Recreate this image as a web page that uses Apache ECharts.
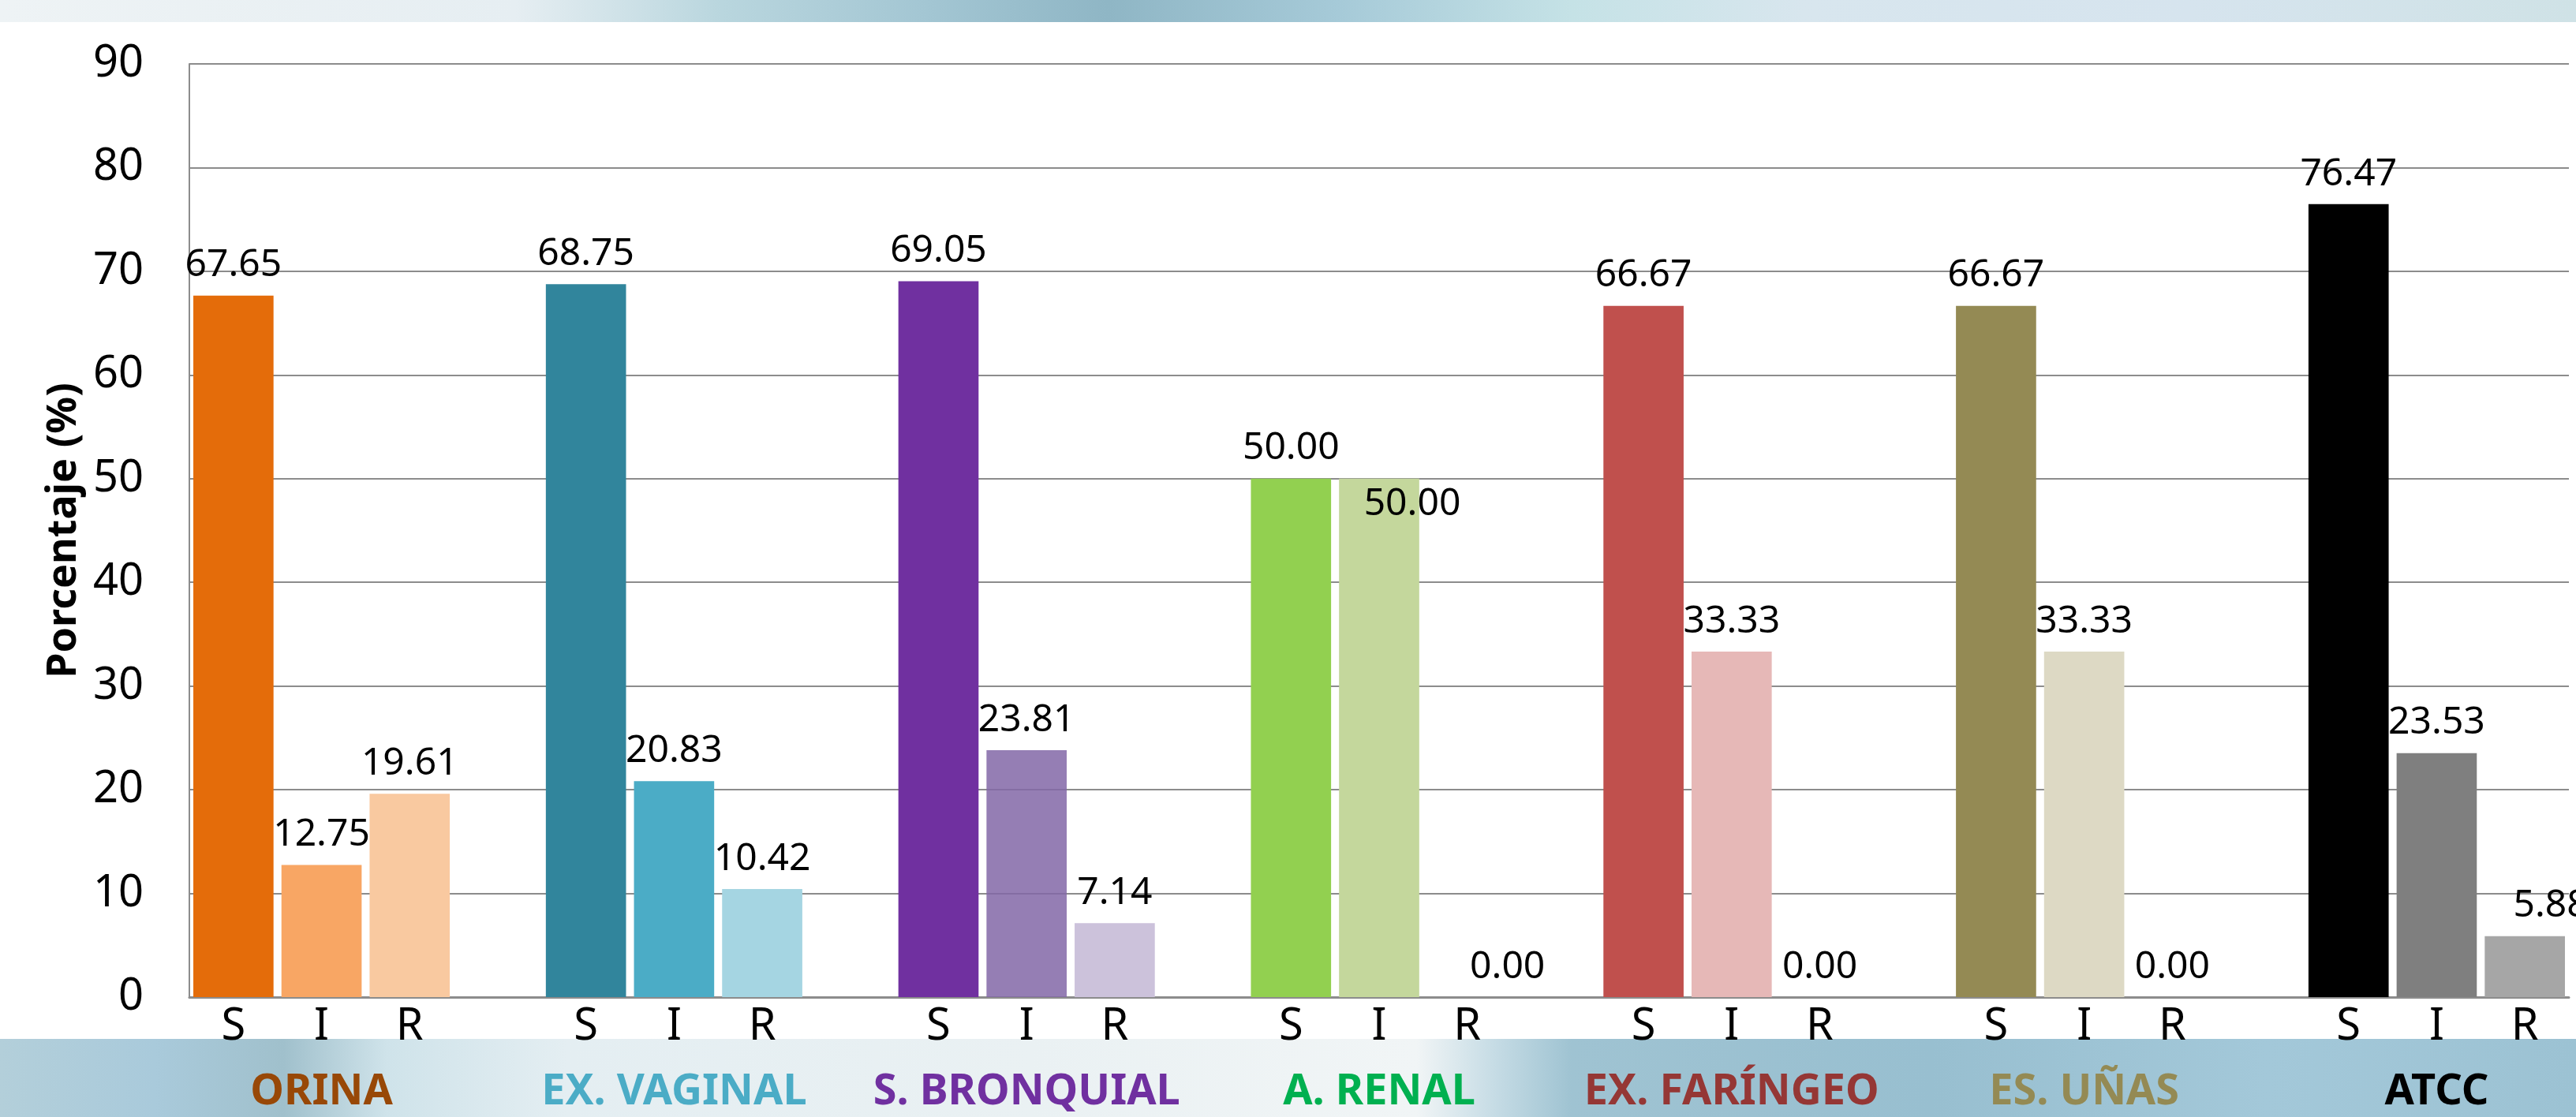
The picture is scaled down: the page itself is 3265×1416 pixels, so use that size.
<!DOCTYPE html>
<html>
<head>
<meta charset="utf-8">
<script src="https://cdn.jsdelivr.net/npm/echarts@6/dist/echarts.min.js"></script>
<style>
  html, body { margin: 0; padding: 0; background: #ffffff; }
  #chart { width: 3265px; height: 1416px; }
</style>
</head>
<body>
<div id="chart"></div>
<script>
// Susceptibility profile (S / I / R) per sample origin, in percent
const groups = ['ORINA', 'EX. VAGINAL', 'S. BRONQUIAL', 'A. RENAL', 'EX. FARÍNGEO', 'ES. UÑAS', 'ATCC'];
const levels = ['S', 'I', 'R'];
const valS = [67.65, 68.75, 69.05, 50.00, 66.67, 66.67, 76.47];
const valI = [12.75, 20.83, 23.81, 50.00, 33.33, 33.33, 23.53];
const valR = [19.61, 10.42, 7.14, 0.00, 0.00, 0.00, 5.88];
const yTicks = [0, 10, 20, 30, 40, 50, 60, 70, 80, 90];

// Colour per group: [S, I, R] bar fills, and the group title colour
const barColors = [
  ['#E46C0A', '#F8A664', '#F9C9A0'],
  ['#31859C', '#4BACC6', '#A5D5E2'],
  ['#7030A0', 'rgba(131,103,167,0.85)', '#CCC2DB'],
  ['#92D050', '#C4D79C', '#E0E0E0'],
  ['#C0504D', '#E6B8B7', '#F2DCDB'],
  ['#948A54', '#DDD9C4', '#EEECE1'],
  ['#000000', '#7F7F7F', '#A6A6A6']
];
const groupColors = ['#984807', '#4BACC6', '#7030A0', '#00B050', '#953735', '#948A54', '#000000'];

// A few value labels are nudged aside so they do not collide with neighbours
const labelNudge = { '3-1': [42, 71], '3-2': [51, 0], '6-2': [33, 0] };

const values = [valS, valI, valR];
const categories = [];
const groupAxis = [];
const barData = [];
groups.forEach((g, gi) => {
  levels.forEach((lv, li) => {
    categories.push(lv);
    groupAxis.push(li === 1 ? { value: g, textStyle: { color: groupColors[gi] } } : '');
    const item = {
      value: values[li][gi],
      itemStyle: { color: barColors[gi][li] }
    };
    const nudge = labelNudge[gi + '-' + li];
    if (nudge) item.label = { offset: nudge };
    barData.push(item);
  });
  if (gi < groups.length - 1) {
    categories.push('');
    groupAxis.push('');
    barData.push('-');
  }
});

const FONT = '"Noto Sans", "Open Sans", sans-serif';

const chart = echarts.init(document.getElementById('chart'), null, { renderer: 'canvas' });
chart.setOption({
  animation: false,
  backgroundColor: '#ffffff',
  graphic: [
    {
      type: 'rect', z: -10, silent: true,
      shape: { x: 0, y: 0, width: 3265, height: 28 },
      style: {
        fill: new echarts.graphic.LinearGradient(0, 0, 1, 0, [
          { offset: 0.00, color: '#eef3f5' },
          { offset: 0.20, color: '#e6eef2' },
          { offset: 0.28, color: '#b9d6de' },
          { offset: 0.36, color: '#a3c6d3' },
          { offset: 0.43, color: '#8fb6c5' },
          { offset: 0.52, color: '#a6cad8' },
          { offset: 0.61, color: '#c5e2e6' },
          { offset: 0.70, color: '#d8e6ee' },
          { offset: 0.85, color: '#d6e4ee' },
          { offset: 1.00, color: '#cfe2e6' }
        ])
      }
    },
    {
      type: 'rect', z: -10, silent: true,
      shape: { x: 0, y: 1317, width: 3265, height: 99 },
      style: {
        fill: new echarts.graphic.LinearGradient(0, 0, 1, 0, [
          { offset: 0.00, color: '#b3cfda' },
          { offset: 0.06, color: '#a9cadb' },
          { offset: 0.11, color: '#a0c0cc' },
          { offset: 0.15, color: '#cfe3ea' },
          { offset: 0.22, color: '#e4eef2' },
          { offset: 0.40, color: '#eaf1f3' },
          { offset: 0.55, color: '#f1f5f6' },
          { offset: 0.58, color: '#c6dce5' },
          { offset: 0.61, color: '#9fc3d2' },
          { offset: 0.75, color: '#98bfd0' },
          { offset: 0.88, color: '#a3c8d9' },
          { offset: 1.00, color: '#9cc2d3' }
        ])
      }
    }
  ],
  grid: { left: 240, right: 9, top: 81, bottom: 152, containLabel: false },
  xAxis: [
    {
      type: 'category',
      data: categories,
      position: 'bottom',
      axisLine: { show: true, lineStyle: { color: '#8c8c8c', width: 3 } },
      axisTick: { show: false },
      axisLabel: { interval: 0, color: '#000', fontFamily: FONT, fontSize: 56, margin: 10 },
      splitLine: { show: false }
    },
    {
      type: 'category',
      data: groupAxis,
      position: 'bottom',
      axisLine: { show: false },
      axisTick: { show: false },
      axisLabel: { interval: 0, fontFamily: FONT, fontSize: 54, fontWeight: 'bold', margin: 94 },
      splitLine: { show: false }
    }
  ],
  yAxis: {
    type: 'value',
    min: yTicks[0],
    max: yTicks[yTicks.length - 1],
    interval: yTicks[1] - yTicks[0],
    name: 'Porcentaje (%)',
    nameLocation: 'middle',
    nameRotate: 90,
    nameGap: 132,
    nameTextStyle: { color: '#000', fontFamily: FONT, fontSize: 52, fontWeight: 'bold' },
    axisLine: { show: true, lineStyle: { color: '#8c8c8c', width: 2 } },
    axisTick: { show: false },
    axisLabel: { color: '#000', fontFamily: FONT, fontSize: 56, margin: 58 },
    splitLine: { show: true, lineStyle: { color: '#8c8c8c', width: 2 } }
  },
  series: [
    {
      type: 'bar',
      xAxisIndex: 0,
      data: barData,
      barCategoryGap: '9%',
      label: {
        show: true,
        position: 'top',
        distance: 14,
        color: '#000',
        fontFamily: FONT,
        fontSize: 48,
        formatter: p => Number(p.value).toFixed(2)
      }
    }
  ]
});
</script>
</body>
</html>
